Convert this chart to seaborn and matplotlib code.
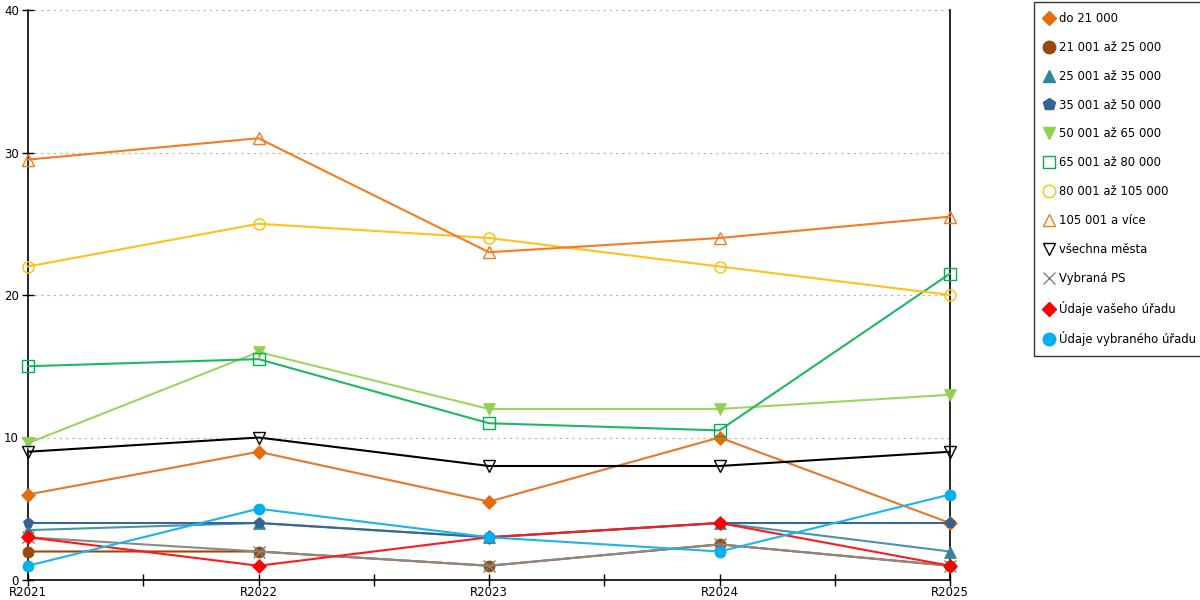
import matplotlib
matplotlib.use("Agg")
import matplotlib.pyplot as plt
import seaborn as sns
import pandas as pd
from matplotlib.lines import Line2D

years = ["R2021", "R2022", "R2023", "R2024", "R2025"]

series_names = [
    "do 21 000",
    "21 001 až 25 000",
    "25 001 až 35 000",
    "35 001 až 50 000",
    "50 001 až 65 000",
    "65 001 až 80 000",
    "80 001 až 105 000",
    "105 001 a více",
    "všechna města",
    "Vybraná PS",
    "Údaje vašeho úřadu",
    "Údaje vybraného úřadu",
]

do_21000 = [6, 9, 5.5, 10, 4]
s21_25 = [2, 2, 1, 2.5, 1]
s25_35 = [3.5, 4, 3, 4, 2]
s35_50 = [4, 4, 3, 4, 4]
s50_65 = [9.6, 16, 12, 12, 13]
s65_80 = [15, 15.5, 11, 10.5, 21.5]
s80_105 = [22, 25, 24, 22, 20]
s105_plus = [29.5, 31, 23, 24, 25.5]
vsechna_mesta = [9, 10, 8, 8, 9]
vybrana_ps = [3, 2, 1, 2.5, 1]
vas_urad = [3, 1, 3, 4, 1]
vybrany_urad = [1, 5, 3, 2, 6]

values = [do_21000, s21_25, s25_35, s35_50, s50_65, s65_80, s80_105,
          s105_plus, vsechna_mesta, vybrana_ps, vas_urad, vybrany_urad]

line_colors = ["#E8772A", "#984807", "#4A93A8", "#3A6694", "#9BD460", "#1DB862",
               "#FFC11A", "#F97A1E", "#000000", "#8F8781", "#FF1A1A", "#1AB4EE"]
marker_colors = ["#E46C0A", "#984807", "#31859C", "#366092", "#92D050", "#00B050",
                 "#FFC000", "#F97A1E", "#000000", "#808080", "#FF0000", "#00B0F0"]
markers = ["D", "o", "^", "p", "v", "s", "o", "^", "v", "x", "D", "o"]
filled = [True, True, True, True, True, False, False, False, False, True, True, True]
msizes = [7, 8, 8, 8, 8, 8, 8, 8, 8, 8, 7, 8]

sns.set_style("white")
plt.rcParams["font.family"] = ["DejaVu Sans"]

fig = plt.figure(figsize=(12, 6), dpi=100)
ax = fig.add_axes([28/1200, 1 - 580/600, (950-28)/1200, (580-10)/600])

for i, name in enumerate(series_names):
    df = pd.DataFrame({"year": years, "value": values[i]})
    fc = marker_colors[i] if filled[i] else "none"
    sns.lineplot(data=df, x="year", y="value", ax=ax, color=line_colors[i],
                 linewidth=1.5, marker=markers[i], markersize=msizes[i],
                 markerfacecolor=fc, markeredgecolor=marker_colors[i],
                 markeredgewidth=1.0 if not filled[i] or markers[i] == "x" else 0.5,
                 legend=False, zorder=3 + i, clip_on=False)

ax.set_xlim(0, len(years) - 1)
ax.set_ylim(0, 40)
ax.set_yticks([0, 10, 20, 30, 40])
ax.set_xticks(range(len(years)))
ax.set_xticklabels(years)
ax.set_xticks([0.5, 1.5, 2.5, 3.5], minor=True)
ax.set_xlabel("")
ax.set_ylabel("")
ax.grid(axis="y", color="#BBBBBB", linestyle=(0, (2, 3)), linewidth=0.9)
ax.set_axisbelow(True)

for s in ["left", "bottom", "right"]:
    ax.spines[s].set_visible(True)
    ax.spines[s].set_color("black")
    ax.spines[s].set_linewidth(1.2)
ax.spines["top"].set_visible(False)

ax.tick_params(axis="y", which="major", direction="inout", length=9, width=1,
               labelsize=8.5, pad=2, colors="black", left=True, right=False)
ax.tick_params(axis="x", which="both", direction="inout", length=8, width=1,
               labelsize=8.5, pad=0.5, colors="black", bottom=True, top=False)

handles = []
for i, name in enumerate(series_names):
    fc = marker_colors[i] if filled[i] else "none"
    handles.append(Line2D([], [], linestyle="none", marker=markers[i],
                          markersize=msizes[i] + 1 if markers[i] != "D" else 7,
                          markerfacecolor=fc, markeredgecolor=marker_colors[i],
                          markeredgewidth=1.0))

leg = fig.legend(handles, series_names, loc="upper left",
                 bbox_to_anchor=(1034/1200, 1 - 2/600), frameon=True,
                 fontsize=8.4, labelspacing=1.36, handlelength=0.8,
                 handletextpad=0.5, borderpad=0.85,
                 borderaxespad=0, fancybox=False)
leg.get_frame().set_edgecolor("black")
leg.get_frame().set_linewidth(1.0)
for t in leg.get_texts():
    t.set_color("black")

fig.savefig("out.png", dpi=100)
